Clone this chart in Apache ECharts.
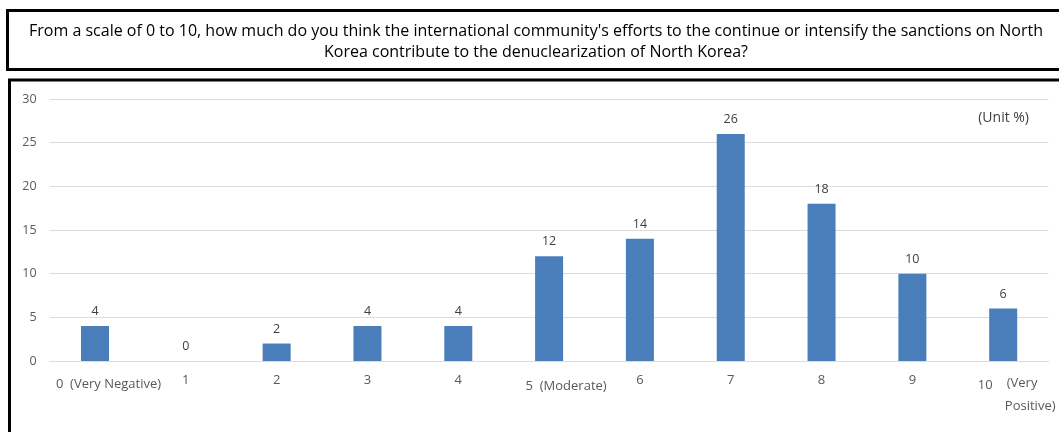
<!DOCTYPE html>
<html><head><meta charset="utf-8">
<script src="https://cdn.jsdelivr.net/npm/echarts@6/dist/echarts.min.js"></script>
<style>html,body{margin:0;padding:0;background:#fff;}#c{width:1059px;height:432px;}</style>
</head><body><div id="c"></div>
<script>
const titleText = "From a scale of 0 to 10, how much do you think the international community's efforts to the continue or intensify the sanctions on North\nKorea contribute to the denuclearization of North Korea?";
const unitText = "(Unit %)";
const categories = ['0  (Very Negative)','1','2','3','4','5  (Moderate)','6','7','8','9','10 (Very\nPositive)'];
const values = [4,0,2,4,4,12,14,26,18,10,6];
const yTicks = [0,5,10,15,20,25,30];

const chart = echarts.init(document.getElementById('c'));
const lab = {fontFamily:'Open Sans', fontSize:13, color:'#595959'};
chart.setOption({
  animation:false,
  backgroundColor:'#fff',
  title:[
    {text:titleText, left:531, top:16, textAlign:'center',
     textStyle:{fontFamily:'Open Sans', fontSize:16, fontWeight:'normal', color:'#000', lineHeight:21}},
    {text:unitText, right:25, top:106,
     textStyle:{fontFamily:'Open Sans', fontSize:14, fontWeight:'normal', color:'#404040'}}
  ],
  graphic:[
    {type:'rect', shape:{x:7.5, y:10.5, width:1100, height:59}, style:{fill:'none', stroke:'#000', lineWidth:3}},
    {type:'rect', shape:{x:9.5, y:80, width:1100, height:400}, style:{fill:'none', stroke:'#000', lineWidth:3}}
  ],
  grid:{left:49.6, right:10.4, top:99, bottom:71},
  xAxis:{type:'category', data:categories,
    axisLine:{show:true, lineStyle:{color:'#dcdcdc'}}, axisTick:{show:false},
    axisLabel:{interval:0, margin:11, ...lab,
      formatter:(v,i)=>{
        if(i===0) return '{neg|'+v+'}';
        if(i===5) return '{mod|'+v+'}';
        if(i===10){const p=v.split('\n'); const f=p[0].split(' '); return '{ta|'+f[0]+'}{tb|'+f[1]+'}\n{tc|'+p[1]+'}';}
        return '{n|'+v+'}';
      },
      rich:{
        n:{...lab, lineHeight:16},
        neg:{...lab, lineHeight:16, padding:[9,0,0,27]},
        mod:{...lab, lineHeight:16, padding:[12,0,0,34]},
        ta:{...lab, lineHeight:23, align:'left', padding:[3,0,0,27]},
        tb:{...lab, lineHeight:23, align:'left', padding:[0,0,0,14]},
        tc:{...lab, lineHeight:23, align:'left', padding:[0,0,0,54]}
      }}},
  yAxis:{type:'value', min:0, max:30, interval:5,
    axisLine:{show:false}, axisTick:{show:false},
    axisLabel:{...lab, fontSize:12.5, margin:13, formatter:v=>yTicks.includes(v)?String(v):''},
    splitLine:{lineStyle:{color:'#dcdcdc'}}},
  series:[{type:'bar', data:values, barWidth:28,
    itemStyle:{color:'#4a7ebb'},
    label:{show:true, position:'top', distance:8, fontFamily:'Open Sans', fontSize:12.5, color:'#404040'}}]
});
</script></body></html>
